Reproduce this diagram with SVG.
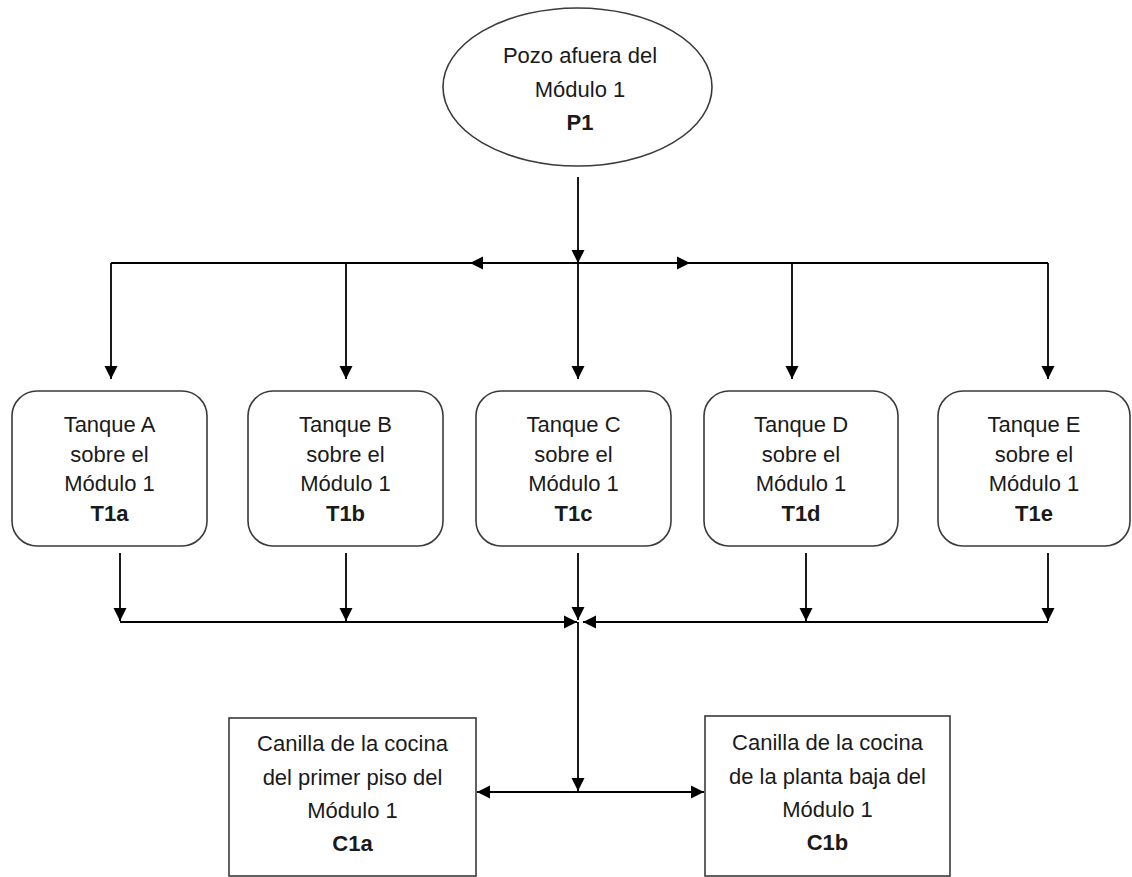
<svg xmlns="http://www.w3.org/2000/svg" width="1132" height="877" viewBox="0 0 1132 877">
<style>
  .shape { fill: #ffffff; stroke: #3a3a3a; stroke-width: 1.6; }
  .conn { fill: none; stroke: #000000; stroke-width: 1.8; }
  text { font-family: "Liberation Sans", Arial, sans-serif; font-size: 22px; fill: #1a1a1a; text-anchor: middle; }
  .b { font-weight: bold; }
</style>
<defs>
  <marker id="arr" markerUnits="userSpaceOnUse" markerWidth="14" markerHeight="14" refX="13" refY="6.5" orient="auto-start-reverse" viewBox="0 0 14 13">
    <path d="M0,0 L13,6.5 L0,13 z" fill="#000000"/>
  </marker>
</defs>
<rect width="1132" height="877" fill="#ffffff"/>

<g id="connectors">
  <line class="conn" x1="578" y1="177" x2="578" y2="263" marker-end="url(#arr)"/>
  <line class="conn" x1="111" y1="263" x2="1048" y2="263"/>
  <line class="conn" x1="578" y1="263" x2="470" y2="263" marker-end="url(#arr)"/>
  <line class="conn" x1="578" y1="263" x2="690" y2="263" marker-end="url(#arr)"/>
  <line class="conn" x1="111" y1="263" x2="111" y2="379" marker-end="url(#arr)"/>
  <line class="conn" x1="346" y1="263" x2="346" y2="379" marker-end="url(#arr)"/>
  <line class="conn" x1="578" y1="263" x2="578" y2="379" marker-end="url(#arr)"/>
  <line class="conn" x1="792" y1="263" x2="792" y2="379" marker-end="url(#arr)"/>
  <line class="conn" x1="1048" y1="263" x2="1048" y2="379" marker-end="url(#arr)"/>
  <line class="conn" x1="120" y1="553" x2="120" y2="621" marker-end="url(#arr)"/>
  <line class="conn" x1="346" y1="553" x2="346" y2="621" marker-end="url(#arr)"/>
  <line class="conn" x1="578" y1="553" x2="578" y2="620" marker-end="url(#arr)"/>
  <line class="conn" x1="806" y1="553" x2="806" y2="621" marker-end="url(#arr)"/>
  <line class="conn" x1="1048" y1="553" x2="1048" y2="621" marker-end="url(#arr)"/>
  <line class="conn" x1="120" y1="622" x2="577" y2="622" marker-end="url(#arr)"/>
  <line class="conn" x1="1048" y1="622" x2="583" y2="622" marker-end="url(#arr)"/>
  <line class="conn" x1="578" y1="622" x2="578" y2="791" marker-end="url(#arr)"/>
  <line class="conn" x1="578" y1="792" x2="477" y2="792" marker-end="url(#arr)"/>
  <line class="conn" x1="578" y1="792" x2="704" y2="792" marker-end="url(#arr)"/>
</g>

<g id="P1">
  <ellipse class="shape" cx="577.5" cy="87" rx="134.5" ry="79"/>
  <text x="580" y="63">Pozo afuera del</text>
  <text x="580" y="97">Módulo 1</text>
  <text x="580" y="130" class="b">P1</text>
</g>

<g id="T1a">
  <rect class="shape" x="12" y="391" width="195" height="155" rx="25" ry="25"/>
  <text x="109.5" y="432">Tanque A</text>
  <text x="109.5" y="462">sobre el</text>
  <text x="109.5" y="491">Módulo 1</text>
  <text x="109.5" y="521" class="b">T1a</text>
</g>

<g id="T1b">
  <rect class="shape" x="248" y="391" width="195" height="155" rx="25" ry="25"/>
  <text x="345.5" y="432">Tanque B</text>
  <text x="345.5" y="462">sobre el</text>
  <text x="345.5" y="491">Módulo 1</text>
  <text x="345.5" y="521" class="b">T1b</text>
</g>

<g id="T1c">
  <rect class="shape" x="476" y="391" width="195" height="155" rx="25" ry="25"/>
  <text x="573.5" y="432">Tanque C</text>
  <text x="573.5" y="462">sobre el</text>
  <text x="573.5" y="491">Módulo 1</text>
  <text x="573.5" y="521" class="b">T1c</text>
</g>

<g id="T1d">
  <rect class="shape" x="704" y="391" width="194" height="155" rx="25" ry="25"/>
  <text x="801" y="432">Tanque D</text>
  <text x="801" y="462">sobre el</text>
  <text x="801" y="491">Módulo 1</text>
  <text x="801" y="521" class="b">T1d</text>
</g>

<g id="T1e">
  <rect class="shape" x="938" y="391" width="192" height="155" rx="25" ry="25"/>
  <text x="1034" y="432">Tanque E</text>
  <text x="1034" y="462">sobre el</text>
  <text x="1034" y="491">Módulo 1</text>
  <text x="1034" y="521" class="b">T1e</text>
</g>

<g id="C1a">
  <rect class="shape" x="229" y="718" width="247" height="158"/>
  <text x="352.5" y="751">Canilla de la cocina</text>
  <text x="352.5" y="785">del primer piso del</text>
  <text x="352.5" y="818">Módulo 1</text>
  <text x="352.5" y="851" class="b">C1a</text>
</g>

<g id="C1b">
  <rect class="shape" x="705" y="716" width="245" height="160"/>
  <text x="827.5" y="750">Canilla de la cocina</text>
  <text x="827.5" y="784">de la planta baja del</text>
  <text x="827.5" y="817">Módulo 1</text>
  <text x="827.5" y="850" class="b">C1b</text>
</g>
</svg>
